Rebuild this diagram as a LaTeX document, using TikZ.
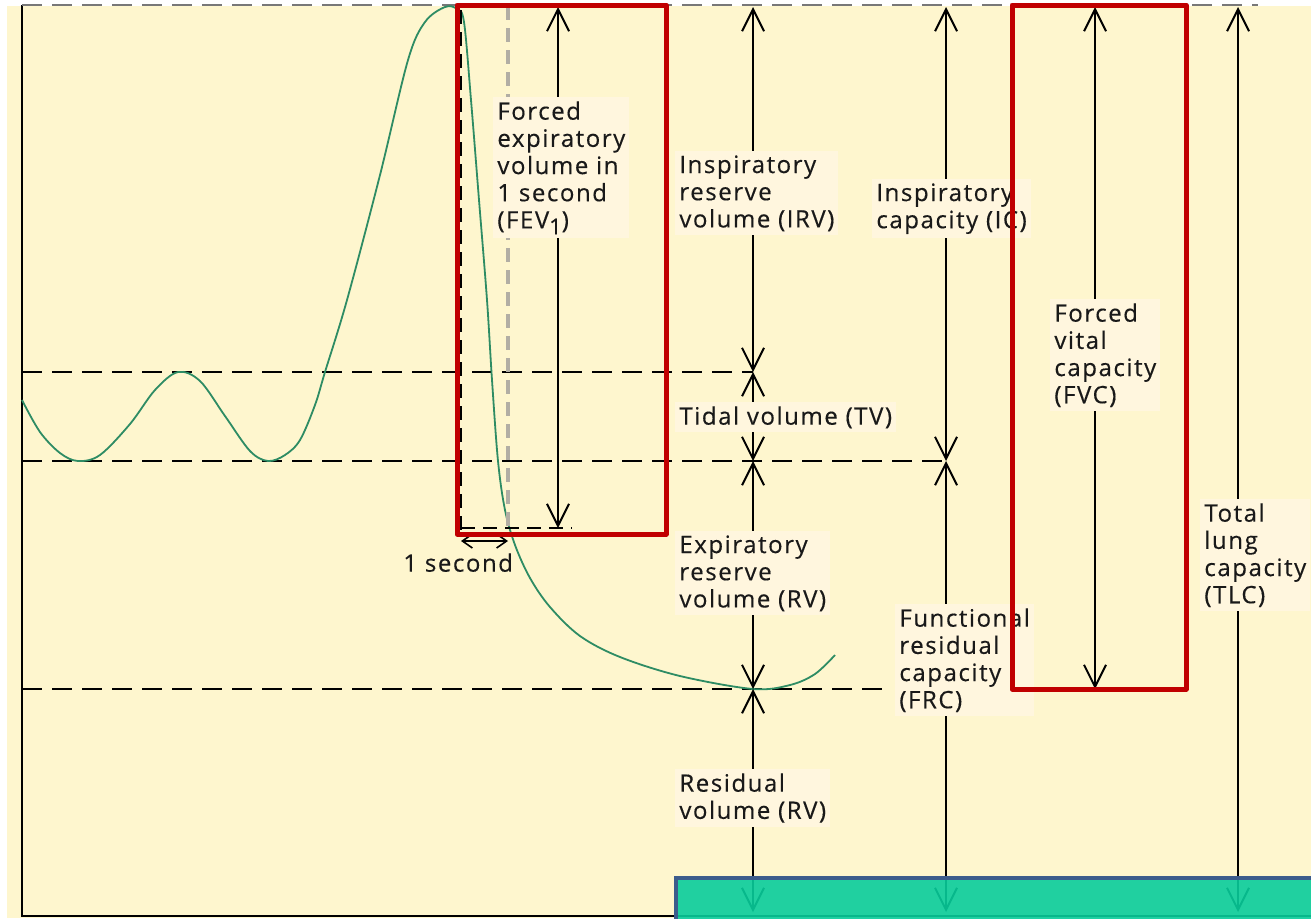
\documentclass[tikz,border=0pt]{standalone}
\usepackage{fontspec}
\setmainfont[LetterSpace=6.5, FakeBold=0.35]{Open Sans}
\usetikzlibrary{arrows.meta}
\definecolor{paper}{RGB}{254,246,206}
\definecolor{tagbg}{RGB}{255,246,222}
\definecolor{trace}{RGB}{46,140,100}
\definecolor{hilite}{RGB}{192,0,0}
\definecolor{banner}{RGB}{8,204,155}
\definecolor{bannerline}{RGB}{60,92,140}
\definecolor{guide}{RGB}{120,120,120}
\definecolor{ghost}{RGB}{178,174,164}

\begin{document}
\begin{tikzpicture}[x=0.5pt,y=-0.5pt,
  >={Straight Barb[length=11pt,width=11pt,line width=1pt]},
  tag/.style={fill=tagbg, inner sep=2pt, align=left, anchor=north west,
    font=\fontsize{12}{13.6}\selectfont, text=black!90},
  level/.style={dash pattern=on 10pt off 5pt, line width=0.9pt},
  meas/.style={line width=0.8pt, <->},
  frame/.style={draw=hilite, line width=2.5pt, line join=round},
]
\useasboundingbox (0,0) rectangle (1311,918);

% paper and axes
\fill[white] (0,0) rectangle (1311,918);
\fill[paper] (7,6) rectangle (1311,918);
\draw[line width=1.3pt] (22,5) -- (22,916) -- (1311,916);

% volume levels
\draw[guide, dash pattern=on 10pt off 5pt, line width=0.9pt] (22,5) -- (1258,5);
\draw[level] (22,372) -- (753,372);
\draw[level] (22,461) -- (946,461);
\draw[level] (22,689) -- (885,689);

% spirogram trace
\draw[trace, line width=0.9pt] plot[smooth, tension=0.55] coordinates {
  (22,400) (40,432) (60,453) (78,461) (100,455) (130,424) (155,390) (178,372)
  (200,381) (225,416) (250,451) (268,461) (285,455) (300,440) (315,405)
  (325,372) (347,300) (380,175) (408,60) (425,22) (445,7) (457,9) (464,22)
  (471,100) (479,200) (487,300) (492,380) (498,461) (505,510) (515,545)
  (530,578) (550,607) (580,636) (620,657) (680,676) (753,689) (790,685)
  (815,674) (835,655)};

% one-second markers
\draw[ghost, dash pattern=on 7pt off 4pt, line width=1.8pt] (508,6) -- (508,528);
\draw[dash pattern=on 7pt off 4pt, line width=1pt] (461,10) -- (461,530);
\draw[dash pattern=on 7pt off 4pt, line width=0.9pt] (461,528) -- (572,528);

% measurement end points
\coordinate (fevT) at (558,7);   \coordinate (fevB) at (558,528);
\coordinate (secL) at (461,541); \coordinate (secR) at (508,541);
\coordinate (vT)   at (753,7);   \coordinate (vI)   at (753,372);
\coordinate (vE)   at (753,461); \coordinate (vR)   at (753,689);
\coordinate (vB)   at (753,912);
\coordinate (cT)   at (946,7);   \coordinate (cE)   at (946,461);
\coordinate (cB)   at (946,912);
\coordinate (fT)   at (1095,7);  \coordinate (fB)   at (1095,689);
\coordinate (tT)   at (1238,7);  \coordinate (tB)   at (1238,912);

\draw[meas] (fevT) -- (fevB);
\draw[line width=0.8pt, {Straight Barb[length=5pt,width=7pt]}-{Straight Barb[length=5pt,width=7pt]}] (secL) -- (secR);
\draw[meas] (vT) -- (vI);
\draw[meas] (vI) -- (vE);
\draw[meas] (vE) -- (vR);
\draw[meas] (vR) -- (vB);
\draw[meas] (cT) -- (cE);
\draw[meas] (cE) -- (cB);
\draw[meas] (fT) -- (fB);
\draw[meas] (tT) -- (tB);

% labels
\node[tag] (fev) at (493,97) {Forced\\expiratory\\volume in\\1 second\\(FEV\raisebox{-3pt}{\fontsize{11}{11}\selectfont 1})};
\node[tag, fill=none] (sec) at (399,549) {1 second};
\node[tag] (irv) at (675,151) {Inspiratory\\reserve\\volume (IRV)};
\node[tag] (tv)  at (675,402) {Tidal volume (TV)};
\node[tag] (erv) at (675,531) {Expiratory\\reserve\\volume (RV)};
\node[tag] (rv)  at (675,769) {Residual\\volume (RV)};
\node[tag] (ic)  at (872,179) {Inspiratory\\capacity (IC)};
\node[tag] (frc) at (895,604) {Functional\\residual\\capacity\\(FRC)};
\node[tag] (fvc) at (1050,299) {Forced\\vital\\capacity\\(FVC)};
\node[tag] (tlc) at (1200,499) {Total\\lung\\capacity\\(TLC)};

% highlighted regions
\draw[frame] (457,5) rectangle (666,534);
\draw[frame] (1012,5) rectangle (1186,689);

% footer band
\draw[draw=bannerline, line width=2pt, fill=banner, fill opacity=0.9] (676,878) rectangle (1330,935);
\end{tikzpicture}
\end{document}
